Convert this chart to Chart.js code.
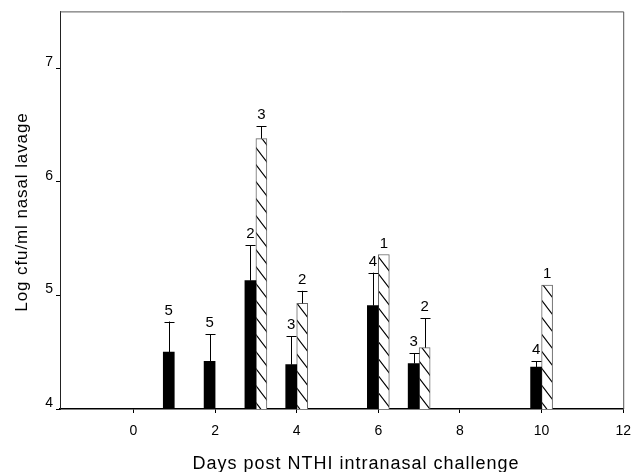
<!DOCTYPE html>
<html>
<head>
<meta charset="utf-8">
<script src="https://cdn.jsdelivr.net/npm/chart.js@4/dist/chart.umd.min.js"></script>
<style>
  html, body { margin: 0; padding: 0; background: #fff; }
  #wrap { width: 641px; height: 472px; position: relative; }
</style>
</head>
<body>
<div id="wrap"><canvas id="chart"></canvas></div>
<script>
"use strict";

// days with a solid (black) bar
const solidDays = [1, 2, 3, 4, 6, 7, 10];
const solidMean = [4.50, 4.42, 5.13, 4.39, 4.91, 4.40, 4.37];
const solidErr  = [0.27, 0.24, 0.31, 0.25, 0.29, 0.09, 0.05];
const solidN    = [5, 5, 2, 3, 4, 3, 4];

// days with a hatched bar
const hatchDays = [3, 4, 6, 7, 10];
const hatchMean = [6.38, 4.93, 5.36, 4.54, 5.09];
const hatchErr  = [0.11, 0.11, 0, 0.26, 0];
const hatchN    = [3, 2, 1, 2, 1];

const xTitle = "Days post NTHI intranasal challenge";
const yTitle = "Log cfu/ml nasal lavage";

const FONT = "'Liberation Sans', Arial, sans-serif";

function hatchPattern() {
  const w = 13, h = 17;
  const c = document.createElement("canvas");
  c.width = w; c.height = h;
  const g = c.getContext("2d");
  g.fillStyle = "#fff";
  g.fillRect(0, 0, w, h);
  g.strokeStyle = "#000";
  g.lineWidth = 1.1;
  g.beginPath();
  const slope = h / w;
  for (const k of [-h, 0, h]) {
    g.moveTo(-2, -2 * slope + k);
    g.lineTo(w + 2, (w + 2) * slope + k);
  }
  g.stroke();
  return document.createElement("canvas").getContext("2d").createPattern(c, "repeat");
}

const toPoints = (xs, ys) => xs.map((x, i) => ({ x, y: ys[i] }));

const errorBars = {
  id: "errorBars",
  afterDatasetsDraw(chart) {
    const { ctx, scales: { y } } = chart;
    ctx.save();
    ctx.strokeStyle = "#000";
    ctx.lineWidth = 1;
    ctx.fillStyle = "#000";
    ctx.font = "15px " + FONT;
    ctx.textAlign = "center";
    ctx.textBaseline = "alphabetic";
    chart.data.datasets.forEach((ds, i) => {
      const meta = chart.getDatasetMeta(i);
      meta.data.forEach((bar, j) => {
        const v = ds.data[j].y;
        const e = ds.errors[j];
        const x = Math.round(bar.x) + 0.5;
        const top = y.getPixelForValue(v + e);
        if (e > 0) {
          ctx.beginPath();
          ctx.moveTo(x, bar.y);
          ctx.lineTo(x, top);
          ctx.moveTo(x - 5, Math.round(top) + 0.5);
          ctx.lineTo(x + 5, Math.round(top) + 0.5);
          ctx.stroke();
        }
        ctx.fillText(String(ds.counts[j]), bar.x, top - 7);
      });
    });
    ctx.restore();
  },
};

const frameAndTitles = {
  id: "frameAndTitles",
  afterDraw(chart) {
    const { ctx, chartArea: a } = chart;
    ctx.save();
    ctx.strokeStyle = "#555";
    ctx.lineWidth = 1;
    ctx.beginPath();
    ctx.moveTo(a.left, a.top + 0.5);
    ctx.lineTo(a.right + 0.5, a.top + 0.5);
    ctx.lineTo(a.right + 0.5, a.bottom);
    ctx.stroke();

    ctx.fillStyle = "#000";
    ctx.font = "18px " + FONT;
    ctx.textAlign = "center";
    ctx.letterSpacing = "1px";
    ctx.textBaseline = "alphabetic";
    ctx.fillText(xTitle, 356, 469);

    ctx.font = "17px " + FONT;
    ctx.letterSpacing = "0.9px";
    ctx.translate(22, 212);
    ctx.rotate(-Math.PI / 2);
    ctx.textBaseline = "middle";
    ctx.fillText(yTitle, 0, 0);
    ctx.restore();
  },
};

const pattern = hatchPattern();

new Chart(document.getElementById("chart"), {
  type: "bar",
  data: {
    datasets: [
      {
        label: "solid",
        data: toPoints(solidDays, solidMean),
        errors: solidErr,
        counts: solidN,
        backgroundColor: "#000",
        borderWidth: 0,
      },
      {
        label: "hatched",
        data: toPoints(hatchDays, hatchMean),
        errors: hatchErr,
        counts: hatchN,
        backgroundColor: pattern,
        borderColor: "#666",
        borderWidth: 1,
      },
    ],
  },
  options: {
    responsive: true,
    maintainAspectRatio: false,
    animation: false,
    barThickness: 11,
    layout: { padding: { top: 10, right: 11, left: 0, bottom: 0 } },
    plugins: { legend: { display: false }, tooltip: { enabled: false } },
    scales: {
      x: {
        type: "linear",
        min: -1.8,
        max: 12,
        offset: false,
        grid: { offset: false, drawOnChartArea: false, drawTicks: true, tickLength: 4, color: "#000" },
        border: { display: true, color: "#000", width: 1.5 },
        ticks: { stepSize: 2, includeBounds: false, padding: 10, color: "#000", font: { family: FONT, size: 14 } },
        afterFit: (s) => { s.height = 63; },
      },
      y: {
        min: 4,
        max: 7.5,
        grid: { drawOnChartArea: false, drawTicks: true, tickLength: 4, color: "#000" },
        border: { display: true, color: "#222", width: 1 },
        ticks: { stepSize: 1, includeBounds: false, padding: 3, labelOffset: -6, color: "#000", font: { family: FONT, size: 14 } },
        afterFit: (s) => { s.width = 60; },
      },
    },
  },
  plugins: [errorBars, frameAndTitles],
});
</script>
</body>
</html>
